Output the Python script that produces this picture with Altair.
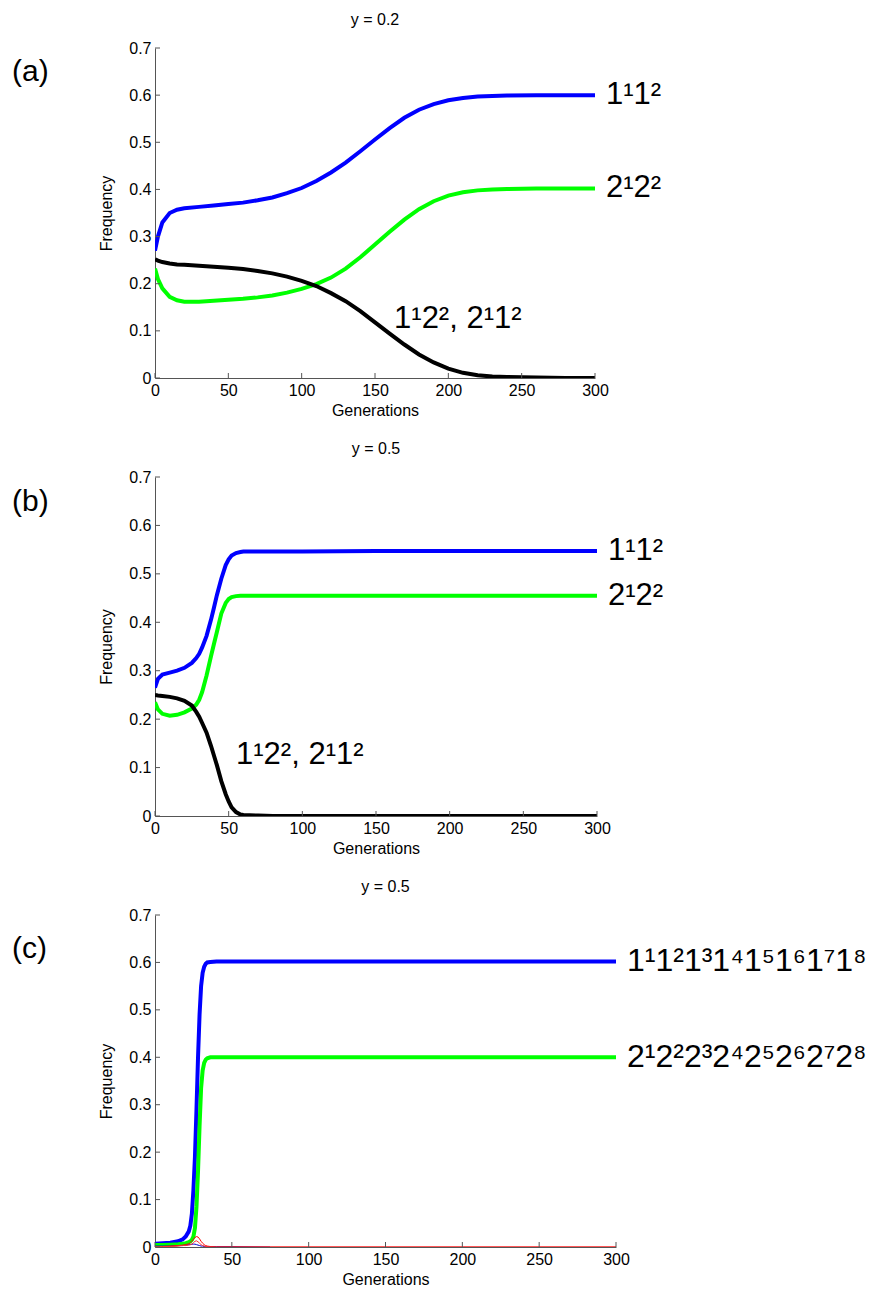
import altair as alt
import pandas as pd

FONT = "Liberation Sans"

# ---------------- panel (a): y = 0.2 ----------------
A_GEN = [0, 2, 5, 10, 15, 20, 30, 40, 50, 60, 70, 80, 90, 100, 110, 120, 130, 140,
         150, 160, 170, 180, 190, 200, 210, 220, 230, 240, 260, 280, 300]
A_BLUE = [0.27, 0.30, 0.33, 0.350, 0.357, 0.360, 0.363, 0.366, 0.369, 0.372, 0.377,
          0.383, 0.392, 0.403, 0.418, 0.436, 0.457, 0.481, 0.506, 0.530, 0.552, 0.569,
          0.581, 0.589, 0.594, 0.597, 0.598, 0.599, 0.600, 0.600, 0.600]
A_GREEN = [0.232, 0.210, 0.190, 0.172, 0.165, 0.162, 0.162, 0.164, 0.166, 0.168, 0.171,
           0.175, 0.181, 0.189, 0.199, 0.213, 0.232, 0.256, 0.283, 0.310, 0.336, 0.358,
           0.375, 0.387, 0.394, 0.398, 0.400, 0.401, 0.402, 0.402, 0.402]
A_BLACK = [0.252, 0.249, 0.246, 0.243, 0.241, 0.240, 0.238, 0.236, 0.234, 0.231, 0.227,
           0.222, 0.215, 0.206, 0.195, 0.180, 0.163, 0.142, 0.118, 0.094, 0.071, 0.050,
           0.033, 0.020, 0.011, 0.006, 0.003, 0.002, 0.001, 0.0, 0.0]

# ---------------- panel (b): y = 0.5 ----------------
B_GEN = [0, 2, 5, 10, 15, 20, 25, 28, 30, 32, 35, 38, 40, 42, 45, 48, 50, 52, 55, 58,
         60, 70, 80, 100, 150, 200, 250, 300]
B_BLUE = [0.265, 0.283, 0.292, 0.296, 0.300, 0.306, 0.316, 0.326, 0.335, 0.348, 0.372,
          0.405, 0.430, 0.456, 0.490, 0.518, 0.530, 0.538, 0.543, 0.545, 0.546, 0.546,
          0.546, 0.546, 0.547, 0.547, 0.547, 0.547]
B_GREEN = [0.235, 0.220, 0.211, 0.207, 0.209, 0.214, 0.222, 0.230, 0.240, 0.256, 0.290,
           0.330, 0.355, 0.380, 0.418, 0.440, 0.448, 0.452, 0.454, 0.455, 0.455, 0.455,
           0.455, 0.455, 0.455, 0.455, 0.455, 0.455]
B_BLACK = [0.250, 0.249, 0.248, 0.246, 0.243, 0.238, 0.228, 0.215, 0.205, 0.192, 0.172,
           0.145, 0.125, 0.105, 0.072, 0.045, 0.030, 0.018, 0.008, 0.003, 0.002, 0.001,
           0.0, 0.0, 0.0, 0.0, 0.0, 0.0]

# ---------------- panel (c): y = 0.5, eight loci ----------------
C_GEN = [0, 5, 10, 15, 18, 20, 22, 23, 24, 25, 26, 27, 28, 29, 30, 31, 32, 33, 34, 36,
         40, 50, 75, 100, 150, 200, 250, 300]
C_BLUE = [0.007, 0.008, 0.009, 0.012, 0.016, 0.022, 0.033, 0.045, 0.070, 0.120, 0.190,
          0.290, 0.400, 0.490, 0.550, 0.578, 0.591, 0.597, 0.600, 0.601, 0.602, 0.602,
          0.602, 0.602, 0.602, 0.602, 0.602, 0.602]
C_GREEN = [0.004, 0.004, 0.005, 0.006, 0.007, 0.008, 0.010, 0.012, 0.015, 0.022, 0.040,
           0.085, 0.160, 0.255, 0.335, 0.372, 0.388, 0.395, 0.398, 0.400, 0.400, 0.400,
           0.400, 0.400, 0.400, 0.400, 0.400, 0.400]
C_RED1 = [0.001, 0.001, 0.002, 0.003, 0.004, 0.005, 0.007, 0.009, 0.012, 0.016, 0.020,
          0.022, 0.021, 0.017, 0.012, 0.008, 0.005, 0.003, 0.002, 0.001, 0.0, 0.0,
          0.0, 0.0, 0.0, 0.0, 0.0, 0.0]
C_RED2 = [0.001, 0.001, 0.001, 0.002, 0.003, 0.003, 0.004, 0.005, 0.006, 0.009, 0.012,
          0.013, 0.011, 0.008, 0.005, 0.003, 0.002, 0.001, 0.001, 0.0, 0.0, 0.0,
          0.0, 0.0, 0.0, 0.0, 0.0, 0.0]
C_NAVY = [0.002, 0.002, 0.002, 0.003, 0.003, 0.004, 0.005, 0.005, 0.006, 0.006, 0.006,
          0.005, 0.004, 0.003, 0.002, 0.002, 0.001, 0.001, 0.001, 0.001, 0.001, 0.001,
          0.0]

X_TICKS = [0, 50, 100, 150, 200, 250, 300]
Y_TICKS = [0, 0.1, 0.2, 0.3, 0.4, 0.5, 0.6, 0.7]

SERIES = ["blue", "green", "black"]
COLORS = ["#0000ff", "#00ff00", "#000000"]
THIN = ["red1", "red2", "navy"]
THIN_COLORS = ["#ff0000", "#ff3030", "#0000cc"]

LAB_2 = ["1\u00b91\u00b2", "2\u00b92\u00b2"]
LAB_MIX = "1\u00b92\u00b2, 2\u00b91\u00b2"
LAB_8 = ["1\u00b91\u00b21\u00b31\u20741\u20751\u20761\u20771\u2078",
         "2\u00b92\u00b22\u00b32\u20742\u20752\u20762\u20772\u2078"]


def long_df(gen, cols):
    rows = []
    for name, vals in cols:
        for g, v in zip(gen, vals):
            rows.append({"gen": g, "freq": v, "s": name})
    return pd.DataFrame(rows)


XS = alt.Scale(domain=[0, 300], nice=False, zero=False)
YS = alt.Scale(domain=[0, 0.7], nice=False)


def xenc():
    return alt.X("gen:Q", scale=XS, title="Generations",
                 axis=alt.Axis(values=X_TICKS, title="Generations", labelFlush=False,
                               titlePadding=4))


def yenc():
    return alt.Y("freq:Q", scale=YS, title="Frequency",
                 axis=alt.Axis(values=Y_TICKS, format=".1~f", title="Frequency",
                               titlePadding=14))


def panel(df, title, w, h, letter, letter_y, right_labels, inner=None, thin_df=None,
          lab_size=30):
    lines = alt.Chart(df).mark_line(strokeWidth=4, clip=True).encode(
        x=xenc(), y=yenc(),
        color=alt.Color("s:N", scale=alt.Scale(domain=SERIES, range=COLORS), legend=None),
    )
    layers = [lines]
    if thin_df is not None:
        layers.append(alt.Chart(thin_df).mark_line(strokeWidth=1, clip=True).encode(
            x=xenc(), y=yenc(),
            stroke=alt.Stroke("s:N", scale=alt.Scale(domain=THIN, range=THIN_COLORS),
                              legend=None),
        ))
    xt = alt.Chart(pd.DataFrame({"gen": X_TICKS})).mark_rule(color="#555", strokeWidth=1).encode(
        x=xenc(), y=alt.value(h), y2=alt.value(h - 5))
    yt = alt.Chart(pd.DataFrame({"freq": Y_TICKS})).mark_rule(color="#555", strokeWidth=1).encode(
        y=yenc(), x=alt.value(0), x2=alt.value(5))
    layers += [xt, yt]
    layers.append(alt.Chart(right_labels).mark_text(
        align="left", baseline="middle", dx=11, fontSize=lab_size, font=FONT, color="black"
    ).encode(x=xenc(), y=yenc(), text="text:N"))
    if inner is not None:
        layers.append(alt.Chart(inner).mark_text(
            align="left", baseline="middle", fontSize=31, font=FONT, color="black"
        ).encode(x=xenc(), y=yenc(), text="text:N"))
    layers.append(alt.Chart(pd.DataFrame({"text": [letter]})).mark_text(
        align="left", baseline="middle", fontSize=30, font=FONT, color="black"
    ).encode(x=alt.value(-143), y=alt.value(letter_y), text="text:N"))
    return alt.layer(*layers).properties(
        width=w, height=h,
        title=alt.Title(title, fontSize=16, font=FONT, fontWeight="normal", color="black",
                        offset=12, anchor="middle"),
    )


dfa = long_df(A_GEN, [("blue", A_BLUE), ("green", A_GREEN), ("black", A_BLACK)])
dfb = long_df(B_GEN, [("blue", B_BLUE), ("green", B_GREEN), ("black", B_BLACK)])
dfc = long_df(C_GEN, [("blue", C_BLUE), ("green", C_GREEN)])
thin_c = long_df(C_GEN, [("navy", C_NAVY), ("red1", C_RED1), ("red2", C_RED2)])

lab_a = pd.DataFrame({"text": LAB_2, "gen": [300, 300], "freq": [A_BLUE[-1], A_GREEN[-1]]})
lab_b = pd.DataFrame({"text": LAB_2, "gen": [300, 300], "freq": [B_BLUE[-1], B_GREEN[-1]]})
lab_c = pd.DataFrame({"text": LAB_8, "gen": [300, 300], "freq": [C_BLUE[-1], C_GREEN[-1]]})
inner_a = pd.DataFrame({"text": [LAB_MIX], "gen": [163], "freq": [0.125]})
inner_b = pd.DataFrame({"text": [LAB_MIX], "gen": [55], "freq": [0.125]})

pa = panel(dfa, "y = 0.2", 440, 330, "(a)", 24, lab_a, inner_a, lab_size=31)
pb = panel(dfb, "y = 0.5", 442, 339, "(b)", 25, lab_b, inner_b, lab_size=31)
pc = panel(dfc, "y = 0.5", 461, 332, "(c)", 34, lab_c, None, thin_c, lab_size=32)

chart = alt.vconcat(pa, pb, pc, spacing=99, bounds="flush").configure_view(
    stroke=None
).configure_axis(
    domainColor="#555", domainWidth=1, ticks=False, grid=False,
    labelFont=FONT, labelFontSize=16, labelColor="black", labelPadding=4,
    titleFont=FONT, titleFontSize=16, titleFontWeight="normal", titleColor="black",
).configure_title(fontSize=16, font=FONT, fontWeight="normal", color="black").properties(
    padding={"left": 4, "top": 4, "right": 2, "bottom": 2})

chart.save("out.html", embed_options={"renderer": "svg", "actions": False})
